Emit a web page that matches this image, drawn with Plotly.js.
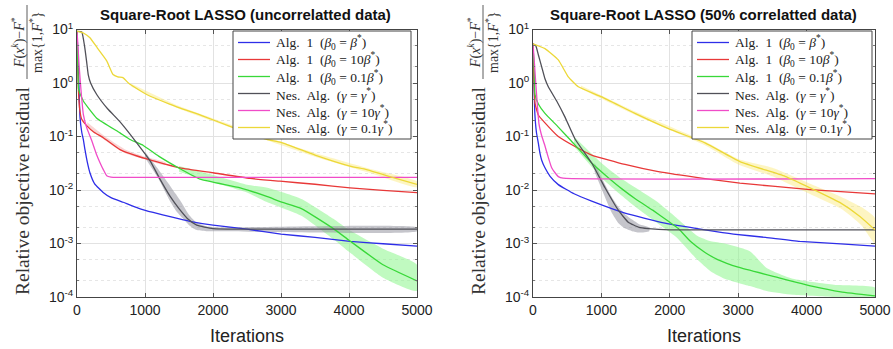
<!DOCTYPE html>
<html>
<head>
<meta charset="utf-8">
<script src="https://cdn.plot.ly/plotly-3.0.1.min.js"></script>
<style>html,body{margin:0;padding:0;background:#fff;}#chart{width:893px;height:349px;}</style>
</head>
<body>
<div id="chart"></div>
<script>
// ---------- Labels ----------
const titles = ["Square-Root LASSO (uncorrelatted data)", "Square-Root LASSO (50% correlatted data)"];
const xTitle = "Iterations";
const yTitleMain = "Relative objective residual";
const yTitleFrac = "<i>F</i>(<i>x</i><sup><i>k</i></sup>)−<i>F</i><sup>*</sup><br>max{1,<i>F</i><sup>*</sup>}";
const seriesNames = [
  "Alg.  1  (<i>β</i><sub>0</sub> = <i>β</i><sup>*</sup>)",
  "Alg.  1  (<i>β</i><sub>0</sub> = 10<i>β</i><sup>*</sup>)",
  "Alg.  1  (<i>β</i><sub>0</sub> = 0.1<i>β</i><sup>*</sup>)",
  "Nes.  Alg.  (<i>γ</i> = <i>γ</i><sup>*</sup>)",
  "Nes.  Alg.  (<i>γ</i> = 10<i>γ</i><sup>*</sup>)",
  "Nes.  Alg.  (<i>γ</i> = 0.1<i>γ</i><sup>*</sup>)"
];
const xTickVals = [0, 1000, 2000, 3000, 4000, 5000];
const yTickVals = [1e-4, 1e-3, 1e-2, 1e-1, 1e0, 1e1];
const yTickText = ["10<sup>-4</sup>", "10<sup>-3</sup>", "10<sup>-2</sup>", "10<sup>-1</sup>", "10<sup>0</sup>", "10<sup>1</sup>"];

// ---------- Left panel: uncorrelated data ----------
const L_alg1_b_x   = [0, 20, 44, 70, 93, 118, 150, 190, 260, 385, 500, 680, 900, 1120, 1400, 1660, 2000, 2500, 3000, 3500, 4015, 4500, 5000];
const L_alg1_b_y   = [9.2, 2.0, 0.23, 0.12, 0.088, 0.056, 0.034, 0.021, 0.013, 0.009, 0.0072, 0.0059, 0.0046, 0.0038, 0.0031, 0.0026, 0.0022, 0.00185, 0.0015, 0.0013, 0.0011, 0.00099, 0.00089];

const L_alg1_10b_x = [0, 8, 20, 40, 70, 142, 250, 387, 632, 1025, 1515, 2000, 2545, 2985, 3500, 4015, 4500, 5000];
const L_alg1_10b_y = [9.2, 3.0, 0.8, 0.32, 0.21, 0.16, 0.12, 0.095, 0.057, 0.038, 0.026, 0.021, 0.0165, 0.0146, 0.0128, 0.011, 0.0098, 0.0089];
const L_band_10b_x  = [150, 400, 700, 1000, 1300];
const L_band_10b_hi = [0.185, 0.103, 0.058, 0.042, 0.033];
const L_band_10b_lo = [0.15, 0.087, 0.049, 0.037, 0.029];

const L_alg1_01b_x = [0, 10, 25, 93, 290, 632, 780, 975, 1200, 1515, 1810, 2400, 2800, 3000, 3300, 3770, 4000, 4500, 5000];
const L_alg1_01b_y = [9.2, 3.0, 0.75, 0.46, 0.22, 0.117, 0.088, 0.068, 0.043, 0.025, 0.016, 0.011, 0.0075, 0.006, 0.0045, 0.0019, 0.00115, 0.0004, 0.0002];
const L_band_01b_x  = [1500, 2000, 2500, 2800, 3300, 3770, 4000, 4500, 5000];
const L_band_01b_hi = [0.028, 0.019, 0.0125, 0.011, 0.0068, 0.0029, 0.0018, 0.0008, 0.0004];
const L_band_01b_lo = [0.022, 0.014, 0.009, 0.0059, 0.0033, 0.0012, 0.0007, 0.00023, 0.00013];

const L_nes_g_x    = [0, 70, 110, 140, 165, 200, 290, 450, 630, 850, 1075, 1220, 1370, 1500, 1640, 1760, 2000, 2500, 3000, 4000, 5000];
const L_nes_g_y    = [9.2, 9.0, 5.0, 2.6, 1.44, 1.0, 0.61, 0.33, 0.19, 0.085, 0.035, 0.016, 0.0076, 0.0045, 0.0028, 0.0022, 0.0019, 0.00185, 0.00185, 0.00185, 0.00185];
const L_band_g_x    = [1000, 1200, 1350, 1450, 1550, 1650, 1750, 1900, 2100, 5000];
const L_band_g_hi   = [0.052, 0.024, 0.013, 0.0085, 0.0055, 0.0034, 0.0025, 0.0021, 0.002, 0.002];
const L_band_g_lo   = [0.04, 0.016, 0.0068, 0.0042, 0.003, 0.0022, 0.0018, 0.0017, 0.0017, 0.0017];

const L_nes_10g_x  = [0, 10, 30, 60, 93, 140, 215, 290, 340, 387, 437, 500, 600, 5000];
const L_nes_10g_y  = [9.2, 6.0, 2.2, 0.7, 0.26, 0.15, 0.085, 0.045, 0.032, 0.024, 0.0185, 0.0174, 0.0172, 0.0172];

const L_nes_01g_x  = [0, 100, 190, 300, 437, 530, 600, 680, 755, 825, 1025, 1370, 1855, 2250, 2790, 3000, 3500, 4015, 4260, 4650, 5000];
const L_nes_01g_y  = [9.3, 8.5, 7.0, 4.5, 2.6, 1.44, 1.3, 1.25, 1.0, 0.87, 0.61, 0.40, 0.24, 0.155, 0.088, 0.078, 0.045, 0.028, 0.024, 0.017, 0.0127];
const L_band_01g_x  = [800, 1500, 2500, 3500, 4300, 5000];
const L_band_01g_hi = [0.97, 0.37, 0.13, 0.049, 0.025, 0.0145];
const L_band_01g_lo = [0.85, 0.33, 0.115, 0.042, 0.021, 0.0112];

// ---------- Right panel: 50% correlated data ----------
const R_alg1_b_x   = [0, 10, 25, 50, 78, 100, 127, 175, 250, 370, 600, 858, 1345, 1930, 2515, 2930, 3400, 3900, 4500, 5000];
const R_alg1_b_y   = [5.4, 2.0, 0.3, 0.12, 0.075, 0.05, 0.036, 0.026, 0.018, 0.0126, 0.0085, 0.0062, 0.0037, 0.0024, 0.0018, 0.0015, 0.0013, 0.0011, 0.00098, 0.00089];

const R_alg1_10b_x = [0, 10, 30, 80, 175, 370, 614, 858, 1345, 1832, 2515, 3025, 3500, 4050, 4500, 5000];
const R_alg1_10b_y = [5.4, 1.5, 0.41, 0.25, 0.18, 0.1, 0.065, 0.045, 0.03, 0.022, 0.0163, 0.0134, 0.0118, 0.0102, 0.0093, 0.0085];

const R_alg1_01b_x = [0, 15, 30, 80, 175, 370, 550, 858, 1101, 1300, 1500, 1750, 1980, 2125, 2300, 2515, 2700, 3000, 3587, 4075, 4500, 5000];
const R_alg1_01b_y = [5.4, 2.0, 0.6, 0.4, 0.27, 0.15, 0.085, 0.032, 0.017, 0.0105, 0.0068, 0.0042, 0.0026, 0.0019, 0.0011, 0.00068, 0.0005, 0.00036, 0.00023, 0.00016, 0.000125, 0.000105];
const R_band_01b_x  = [600, 1000, 1300, 1500, 1800, 2100, 2400, 2600, 2800, 3170, 3415, 3800, 4400, 5000];
const R_band_01b_hi = [0.1, 0.032, 0.016, 0.011, 0.0062, 0.003, 0.0014, 0.0011, 0.001, 0.00072, 0.00035, 0.00022, 0.00017, 0.00015];
const R_band_01b_lo = [0.065, 0.017, 0.0078, 0.0048, 0.0025, 0.0013, 0.0005, 0.0003, 0.00022, 0.00016, 0.00013, 0.00011, 0.0001, 0.000092];

const R_nes_g_x    = [0, 40, 80, 127, 175, 224, 350, 468, 614, 858, 1053, 1247, 1393, 1550, 1686, 2000, 3000, 5000];
const R_nes_g_y    = [5.4, 5.0, 3.3, 2.0, 1.2, 0.85, 0.45, 0.23, 0.09, 0.032, 0.011, 0.0042, 0.0025, 0.002, 0.0019, 0.0018, 0.0018, 0.0018];
const R_band_g_x    = [900, 1050, 1150, 1250, 1350, 1450, 1550, 1700];
const R_band_g_hi   = [0.032, 0.013, 0.0075, 0.0048, 0.0035, 0.0028, 0.0023, 0.002];
const R_band_g_lo   = [0.022, 0.0075, 0.0038, 0.0024, 0.0019, 0.0017, 0.0016, 0.0017];

const R_nes_10g_x  = [0, 15, 40, 88, 130, 170, 220, 273, 322, 370, 440, 5000];
const R_nes_10g_y  = [5.4, 3.0, 1.0, 0.17, 0.1, 0.07, 0.042, 0.026, 0.021, 0.0178, 0.0166, 0.0163];

const R_nes_01g_x  = [0, 175, 370, 516, 662, 1004, 1490, 1980, 2515, 3025, 3685, 4050, 4490, 4780, 5000];
const R_nes_01g_y  = [5.4, 4.4, 2.7, 1.3, 0.85, 0.55, 0.27, 0.14, 0.076, 0.034, 0.018, 0.011, 0.0058, 0.0032, 0.0018];
const R_band_01g_x  = [700, 1500, 2500, 3000, 3500, 4000, 4500, 4800, 5000];
const R_band_01g_hi = [0.9, 0.29, 0.082, 0.038, 0.026, 0.014, 0.0075, 0.0048, 0.003];
const R_band_01g_lo = [0.78, 0.25, 0.07, 0.03, 0.018, 0.009, 0.0045, 0.0022, 0.001];

// ---------- Styles ----------
const lineColors = ["#2e2ee8", "#e83838", "#38d838", "#505058", "#f04cc8", "#ecd838"];
const bandColors = {red: "rgba(240,150,150,0.4)", green: "rgba(140,245,140,0.55)", gray: "rgba(150,150,160,0.55)", yellow: "rgba(250,232,120,0.45)"};

function band(x, hi, lo, color, xa, ya) {
  return {
    x: x.concat(x.slice().reverse()),
    y: hi.concat(lo.slice().reverse()),
    xaxis: xa, yaxis: ya, type: "scatter", mode: "lines",
    fill: "toself", fillcolor: color, line: {width: 0, shape: "spline", smoothing: 0.5},
    showlegend: false, hoverinfo: "skip"
  };
}
function line(x, y, i, xa, ya) {
  return {
    x: x, y: y, xaxis: xa, yaxis: ya, type: "scatter", mode: "lines",
    name: seriesNames[i], showlegend: false,
    line: {color: lineColors[i], width: 1.3, shape: "spline", smoothing: 0.4}
  };
}

const traces = [
  band(L_band_10b_x, L_band_10b_hi, L_band_10b_lo, bandColors.red, "x", "y"),
  band(L_band_01b_x, L_band_01b_hi, L_band_01b_lo, bandColors.green, "x", "y"),
  band(L_band_g_x, L_band_g_hi, L_band_g_lo, bandColors.gray, "x", "y"),
  band(L_band_01g_x, L_band_01g_hi, L_band_01g_lo, bandColors.yellow, "x", "y"),
  band(R_band_01b_x, R_band_01b_hi, R_band_01b_lo, bandColors.green, "x2", "y2"),
  band(R_band_g_x, R_band_g_hi, R_band_g_lo, bandColors.gray, "x2", "y2"),
  band(R_band_01g_x, R_band_01g_hi, R_band_01g_lo, bandColors.yellow, "x2", "y2"),
  line(L_alg1_b_x, L_alg1_b_y, 0, "x", "y"),
  line(L_alg1_10b_x, L_alg1_10b_y, 1, "x", "y"),
  line(L_alg1_01b_x, L_alg1_01b_y, 2, "x", "y"),
  line(L_nes_g_x, L_nes_g_y, 3, "x", "y"),
  line(L_nes_10g_x, L_nes_10g_y, 4, "x", "y"),
  line(L_nes_01g_x, L_nes_01g_y, 5, "x", "y"),
  line(R_alg1_b_x, R_alg1_b_y, 0, "x2", "y2"),
  line(R_alg1_10b_x, R_alg1_10b_y, 1, "x2", "y2"),
  line(R_alg1_01b_x, R_alg1_01b_y, 2, "x2", "y2"),
  line(R_nes_g_x, R_nes_g_y, 3, "x2", "y2"),
  line(R_nes_10g_x, R_nes_10g_y, 4, "x2", "y2"),
  line(R_nes_01g_x, R_nes_01g_y, 5, "x2", "y2")
];

const W = 893, H = 349;
const px = v => v / W, py = v => 1 - v / H;
const sans = "Liberation Sans, Arial, sans-serif";
const serif = "Liberation Serif, Times New Roman, serif";
const tickFont = {family: sans, size: 14, color: "#222"};

function xAxis(l, r, anchor) {
  return {
    domain: [px(l), px(r)], anchor: anchor, range: [0, 5000], tickvals: xTickVals,
    showgrid: true, gridcolor: "#e2e2e2", zeroline: false,
    showline: true, linecolor: "#444", linewidth: 1, mirror: "ticks",
    ticks: "inside", ticklen: 4, tickcolor: "#555", tickfont: tickFont,
    title: {text: xTitle, font: {family: sans, size: 18, color: "#222"}, standoff: 12},
    automargin: false, fixedrange: true
  };
}
function yAxis(anchor) {
  return {
    type: "log", domain: [py(297), py(29.5)], anchor: anchor, range: [-4, 1],
    tickvals: yTickVals, ticktext: yTickText,
    showgrid: true, gridcolor: "#e2e2e2", zeroline: false,
    showline: true, linecolor: "#444", linewidth: 1, mirror: "ticks",
    ticks: "inside", ticklen: 4, tickcolor: "#555", tickfont: tickFont,
    minor: {showgrid: true, gridcolor: "#e6e6e6", griddash: "dot", ticks: "inside", ticklen: 2, tickcolor: "#777"},
    automargin: false, fixedrange: true
  };
}

const annotations = [
  {text: "<b>" + titles[0] + "</b>", x: px(245), y: py(14), xref: "paper", yref: "paper", showarrow: false,
   font: {family: sans, size: 15, color: "#111"}, xanchor: "center", yanchor: "middle"},
  {text: "<b>" + titles[1] + "</b>", x: px(703), y: py(14), xref: "paper", yref: "paper", showarrow: false,
   font: {family: sans, size: 15, color: "#111"}, xanchor: "center", yanchor: "middle"}
];
const shapes = [];
[0, 456].forEach(off => {
  annotations.push({text: yTitleMain, x: px(22 + off), y: py(191), xref: "paper", yref: "paper", showarrow: false,
    textangle: -90, font: {family: serif, size: 19.5, color: "#333"}, xanchor: "center", yanchor: "middle"});
  annotations.push({text: yTitleFrac, x: px(27 + off), y: py(42), xref: "paper", yref: "paper", showarrow: false,
    textangle: -90, font: {family: serif, size: 14, color: "#333"}, xanchor: "center", yanchor: "middle"});
  shapes.push({type: "line", xref: "paper", yref: "paper", x0: px(27 + off), x1: px(27 + off), y0: py(5), y1: py(79),
    line: {color: "#333", width: 0.8}});
});

// ---------- Legends (drawn as boxed keys, one per panel) ----------
const legendBoxes = [{l: 233, r: 411}, {l: 692, r: 872}];
const legTop = 31, legBottom = 139, legRow0 = 42.5, legRowStep = 17;
legendBoxes.forEach(b => {
  shapes.push({type: "rect", xref: "paper", yref: "paper", x0: px(b.l), x1: px(b.r), y0: py(legTop), y1: py(legBottom),
    fillcolor: "#fff", line: {color: "#444", width: 1}, layer: "above"});
  seriesNames.forEach((name, i) => {
    const yy = legRow0 + i * legRowStep;
    shapes.push({type: "line", xref: "paper", yref: "paper", x0: px(b.l + 5), x1: px(b.l + 37), y0: py(yy), y1: py(yy),
      line: {color: lineColors[i], width: 1.3}, layer: "above"});
    annotations.push({text: name, x: px(b.l + 41), y: py(yy + 0.5), xref: "paper", yref: "paper", showarrow: false,
      xanchor: "left", yanchor: "middle", font: {family: serif, size: 13.5, color: "#222"}});
  });
});

const layout = {
  width: W, height: H, margin: {l: 0, r: 0, t: 0, b: 0},
  paper_bgcolor: "#fff", plot_bgcolor: "#fff",
  xaxis: xAxis(77, 417, "y"), yaxis: yAxis("x"),
  xaxis2: xAxis(533, 875, "y2"), yaxis2: yAxis("x2"),
  annotations: annotations, shapes: shapes, showlegend: false
};

Plotly.newPlot("chart", traces, layout, {displayModeBar: false, staticPlot: true});
</script>
</body>
</html>
